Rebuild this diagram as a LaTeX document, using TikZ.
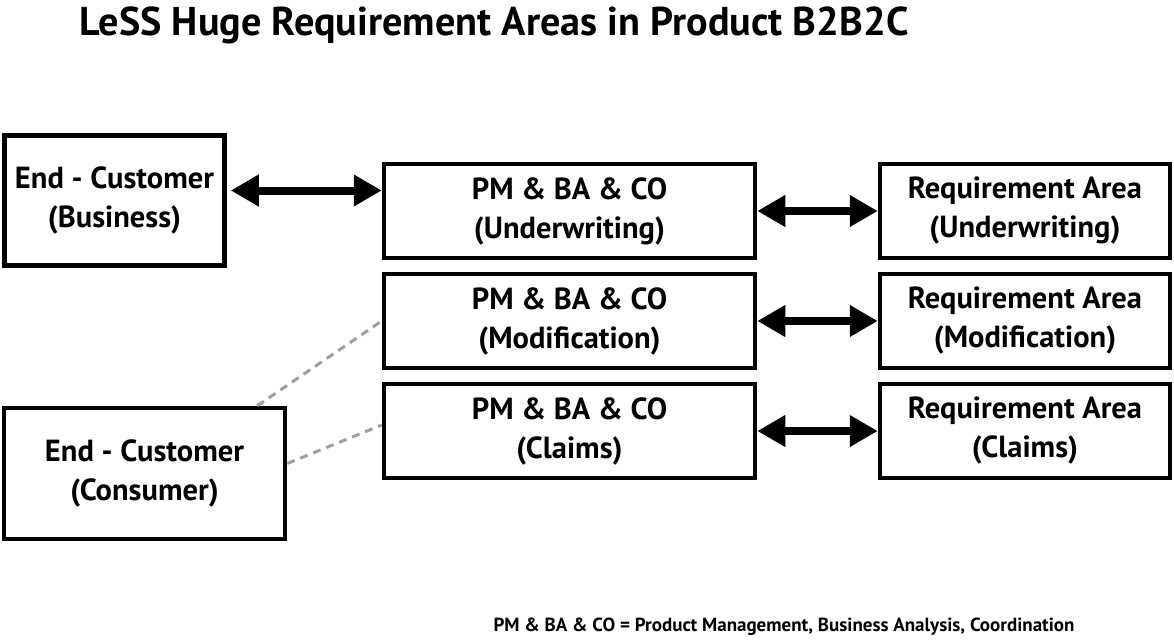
\documentclass[tikz,border=0pt]{standalone}
\usepackage{fontspec}
\setmainfont{PT Sans}
\usetikzlibrary{arrows.meta,positioning}

\begin{document}
\begin{tikzpicture}[x=1pt,y=-1pt]
    \tikzstyle{box} = [draw, line width=4.5pt, inner sep=0pt, align=center,
    font=\fontsize{30.5}{39}\selectfont\bfseries]
    \tikzstyle{link} = [line width=8pt,
    {Triangle[length=28pt,width=30pt]}-{Triangle[length=28pt,width=30pt]}]
    \tikzstyle{faint} = [draw=gray!75, line width=3pt, dash pattern=on 8pt off 6pt]

    \useasboundingbox (0,0) rectangle (1174,640);

    \draw
    (494,25) node [font=\fontsize{40.2}{44}\selectfont\bfseries] (title)
        {LeSS Huge Requirement Areas in Product B2B2C}

    (114.5,200.5) node [box,minimum width=220pt,minimum height=130pt] (ecb)
        {End - Customer\\(Business)}
    (144.5,473.5) node [box,minimum width=281pt,minimum height=131pt] (ecc)
        {End - Customer\\(Consumer)}

    (569.5,211) node [box,minimum width=371pt,minimum height=94pt] (pmu)
        {PM \& BA \& CO\\(Underwriting)}
    (569.5,321) node [box,minimum width=371pt,minimum height=94pt] (pmm)
        {PM \& BA \& CO\\(Modification)}
    (569.5,431) node [box,minimum width=371pt,minimum height=94pt] (pmc)
        {PM \& BA \& CO\\(Claims)}

    (1025,211) node [box,minimum width=290pt,minimum height=94pt] (rau)
        {Requirement Area\\(Underwriting)}
    (1025,321) node [box,minimum width=290pt,minimum height=94pt] (ram)
        {Requirement Area\\(Modification)}
    (1025,431) node [box,minimum width=290pt,minimum height=94pt] (rac)
        {Requirement Area\\(Claims)}

    (784,627) node [font=\fontsize{19}{22}\selectfont\bfseries] (note)
        {PM \& BA \& CO = Product Management, Business Analysis, Coordination}
;

    % double arrows
    \coordinate (ecbout) at ([xshift=4pt,yshift=10pt]ecb.east);
    \draw[link] (ecbout) -- (ecbout -| pmu.west);
    \draw[link] (pmu.east) -- (rau.west);
    \draw[link] (pmm.east) -- (ram.west);
    \draw[link] (pmc.east) -- (rac.west);

    % consumer links
    \draw[faint] ([xshift=-30pt]ecc.north east) -- (pmm.west);
    \draw[faint] ([yshift=10pt]ecc.east) -- ([yshift=6pt]pmc.west);

\end{tikzpicture}
\end{document}
